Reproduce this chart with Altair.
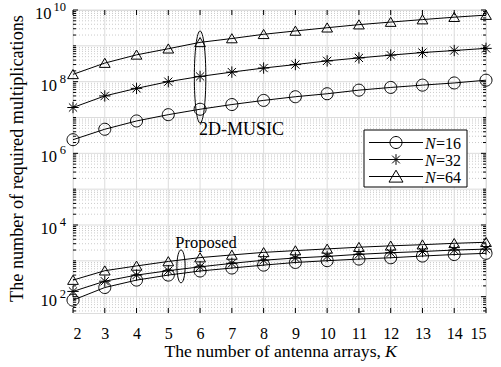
import altair as alt
import pandas as pd

# ---------------- data ----------------
K = list(range(2, 16))
N_labels = ["16", "32", "64"]

music_16 = [2.4e6, 4.7e6, 8.0e6, 1.2e7, 1.7e7, 2.3e7, 3.0e7, 3.8e7, 4.6e7, 5.8e7, 6.9e7, 8.0e7, 9.2e7, 1.1e8]
music_32 = [1.9e7, 4.0e7, 6.5e7, 1.0e8, 1.4e8, 1.85e8, 2.4e8, 3.0e8, 3.8e8, 4.6e8, 5.5e8, 6.5e8, 7.4e8, 8.5e8]
music_64 = [1.6e8, 3.3e8, 5.6e8, 8.3e8, 1.25e9, 1.6e9, 2.1e9, 2.6e9, 3.2e9, 3.9e9, 4.6e9, 5.4e9, 6.3e9, 7.2e9]

prop_16 = [80, 180, 290, 400, 520, 630, 760, 900, 1010, 1120, 1220, 1360, 1500, 1620]
prop_32 = [140, 270, 400, 530, 680, 850, 1040, 1200, 1330, 1520, 1680, 1820, 2000, 2120]
prop_64 = [290, 530, 720, 960, 1230, 1460, 1720, 1930, 2150, 2400, 2620, 2820, 3080, 3300]

y_tick_values = [1e2, 1e4, 1e6, 1e8, 1e10]
y_tick_exps = ["2", "4", "6", "8", "10"]

# annotation ellipses (centre in data coordinates)
ellipse_K = [6, 5.4]
ellipse_v = [1.35e8, 700]

# ---------------- layout / style ----------------
W, H = 413, 303
SERIF = "Liberation Serif"
GRID_MAJOR = "#dcdcdc"
GRID_MINOR = "#b4b4b4"

xscale = alt.Scale(domain=[2, 15], nice=False, zero=False)
yscale = alt.Scale(type="log", domain=[35, 1e10], nice=False)

xaxis = alt.Axis(values=K, format="d", labelFont=SERIF, labelFontSize=16,
                 labelColor="black", ticks=False, domain=False, grid=False,
                 labelPadding=12, title="")


def X(field="K"):
    return alt.X(f"{field}:Q", scale=xscale, axis=xaxis)


def Y(field="v"):
    return alt.Y(f"{field}:Q", scale=yscale, axis=None)


# long table of all series
rows = []
for method, arrs in [("MUSIC", [music_16, music_32, music_64]),
                     ("Prop", [prop_16, prop_32, prop_64])]:
    for n, arr in zip(N_labels, arrs):
        for k, v in zip(K, arr):
            rows.append({"K": k, "v": v, "N": n, "series": f"{method}-{n}"})
df = pd.DataFrame(rows)

# marker shapes (custom paths, unit coords)
CIRCLE = "M-1,0A1,1,0,1,1,1,0A1,1,0,1,1,-1,0Z"
STAR = "M0,-1L0,1M-1,0L1,0M-0.72,-0.72L0.72,0.72M-0.72,0.72L0.72,-0.72"
TRI = "M0,-0.9L1,0.8L-1,0.8Z"
shape_range = [CIRCLE, STAR, TRI]
size_range = [144, 115, 196]

# grid / tick positions
y_minor = []
for e in range(1, 10):
    for m in range(1, 10):
        val = m * 10 ** e
        if 35 <= val <= 1e10 and val not in y_tick_values:
            y_minor.append(val)
y_all_dec = [10.0 ** e for e in range(2, 11)]

xdf = pd.DataFrame({"K": K})
ymaj_df = pd.DataFrame({"v": y_tick_values})
ymin_df = pd.DataFrame({"v": y_minor})
ydec_df = pd.DataFrame({"v": y_all_dec})
yminor_grid_df = pd.DataFrame({"v": [x for x in y_minor if x not in y_all_dec]})

layers = []

# ---- grid ----
layers.append(alt.Chart(yminor_grid_df).mark_rule(color=GRID_MINOR, strokeWidth=0.7, strokeDash=[1, 2]).encode(
    y=Y(), x=alt.value(0), x2=alt.value(W)))
layers.append(alt.Chart(ydec_df).mark_rule(color=GRID_MAJOR, strokeWidth=1).encode(
    y=Y(), x=alt.value(0), x2=alt.value(W)))
layers.append(alt.Chart(xdf).mark_rule(color=GRID_MAJOR, strokeWidth=1).encode(
    x=X(), y=alt.value(0), y2=alt.value(H)))

# ---- ticks (inward, all four sides) ----
layers.append(alt.Chart(xdf).mark_rule(color="black").encode(x=X(), y=alt.value(H), y2=alt.value(H - 5)))
layers.append(alt.Chart(xdf).mark_rule(color="black").encode(x=X(), y=alt.value(0), y2=alt.value(5)))
layers.append(alt.Chart(ymaj_df).mark_rule(color="black").encode(y=Y(), x=alt.value(0), x2=alt.value(5)))
layers.append(alt.Chart(ymaj_df).mark_rule(color="black").encode(y=Y(), x=alt.value(W), x2=alt.value(W - 5)))
layers.append(alt.Chart(ymin_df).mark_rule(color="black").encode(y=Y(), x=alt.value(0), x2=alt.value(3)))
layers.append(alt.Chart(ymin_df).mark_rule(color="black").encode(y=Y(), x=alt.value(W), x2=alt.value(W - 3)))

# ---- data ----
layers.append(alt.Chart(df).mark_line(color="black", strokeWidth=1).encode(
    x=X(), y=Y(), detail="series:N"))
layers.append(alt.Chart(df).mark_point(filled=False, color="black", strokeWidth=1, opacity=1).encode(
    x=X(), y=Y(),
    shape=alt.Shape("N:N", scale=alt.Scale(domain=N_labels, range=shape_range), legend=None),
    size=alt.Size("N:O", scale=alt.Scale(domain=N_labels, range=size_range), legend=None)))

# ---- ellipses ----
ell1 = pd.DataFrame({"K": [ellipse_K[0]], "v": [ellipse_v[0]]})
ell2 = pd.DataFrame({"K": [ellipse_K[1]], "v": [ellipse_v[1]]})
layers.append(alt.Chart(ell1).mark_point(shape="M0,-1A0.125,1,0,1,1,0,1A0.125,1,0,1,1,0,-1Z",
                                         size=92 * 92, filled=False, color="black", strokeWidth=1, opacity=1).encode(
    x=X(), y=Y()))
layers.append(alt.Chart(ell2).mark_point(shape="M0,-1A0.25,1,0,1,1,0,1A0.25,1,0,1,1,0,-1Z",
                                         size=33 * 33, filled=False, color="black", strokeWidth=1, opacity=1).encode(
    x=X(), y=Y()))

one = pd.DataFrame({"a": [0]})

# ---- annotation labels ----
layers.append(alt.Chart(one).mark_text(text="2D-MUSIC", font=SERIF, fontSize=18, color="black",
                                       align="left", baseline="middle").encode(
    x=alt.value(126), y=alt.value(120)))
layers.append(alt.Chart(one).mark_text(text="Proposed", font=SERIF, fontSize=16.5, color="black",
                                       align="center", baseline="middle").encode(
    x=alt.value(133), y=alt.value(233)))

# ---- y tick labels 10^k ----
ylab = pd.DataFrame({"v": y_tick_values, "e": y_tick_exps})
layers.append(alt.Chart(ylab).transform_filter("length(datum.e) == 1").mark_text(
    text="10", font=SERIF, fontSize=16.5, color="black", align="right", baseline="middle", dy=4).encode(
    x=alt.value(-16), y=Y()))
layers.append(alt.Chart(ylab).transform_filter("length(datum.e) == 2").mark_text(
    text="10", font=SERIF, fontSize=16.5, color="black", align="right", baseline="middle", dy=4).encode(
    x=alt.value(-21.5), y=Y()))
layers.append(alt.Chart(ylab).mark_text(font=SERIF, fontSize=12.5, color="black",
                                        align="right", baseline="middle", dy=-3).encode(
    x=alt.value(-7), y=Y(), text="e:N"))

# ---- axis titles ----
layers.append(alt.Chart(one).mark_text(text="The number of antenna arrays,", font=SERIF, fontSize=17.7,
                                       color="black", align="right", baseline="alphabetic").encode(
    x=alt.value(308), y=alt.value(H + 44)))
layers.append(alt.Chart(one).mark_text(text="K", font=SERIF, fontSize=17.7, fontStyle="italic",
                                       color="black", align="left", baseline="alphabetic").encode(
    x=alt.value(312), y=alt.value(H + 44)))
layers.append(alt.Chart(one).mark_text(text="The number of required multiplications", font=SERIF,
                                       fontSize=18.2, color="black", angle=270, align="center",
                                       baseline="alphabetic").encode(
    x=alt.value(-50), y=alt.value(148.5)))

# ---- legend (drawn) ----
LX0, LX1, LY0, LY1 = 291, 394, 120, 177
layers.append(alt.Chart(one).mark_rect(fill="white", stroke="black", strokeWidth=1).encode(
    x=alt.value(LX0), x2=alt.value(LX1), y=alt.value(LY0), y2=alt.value(LY1)))
row_y = [LY0 + 12.5, LY0 + 29.5, LY0 + 46.5]
for i, n in enumerate(N_labels):
    ry = row_y[i]
    layers.append(alt.Chart(one).mark_rule(color="black", strokeWidth=1).encode(
        x=alt.value(LX0 + 5), x2=alt.value(LX0 + 59), y=alt.value(ry)))
    layers.append(alt.Chart(one).mark_point(shape=shape_range[i], size=size_range[i], filled=False,
                                            color="black", strokeWidth=1, opacity=1).encode(
        x=alt.value(LX0 + 32), y=alt.value(ry)))
    layers.append(alt.Chart(one).mark_text(text="N", font=SERIF, fontSize=16, fontStyle="italic",
                                           color="black", align="left", baseline="middle").encode(
        x=alt.value(LX0 + 61), y=alt.value(ry + 1)))
    layers.append(alt.Chart(one).mark_text(text="=" + n, font=SERIF, fontSize=16,
                                           color="black", align="left", baseline="middle").encode(
        x=alt.value(LX0 + 72), y=alt.value(ry + 1)))

chart = alt.layer(*layers).properties(
    width=W, height=H,
    autosize=alt.AutoSizeParams(type="none"),
    padding={"left": 73, "top": 10, "right": 15, "bottom": 54},
).configure_view(stroke="black", strokeWidth=1).configure(background="white")

chart.save("out.html", embed_options={"renderer": "svg", "actions": False})
